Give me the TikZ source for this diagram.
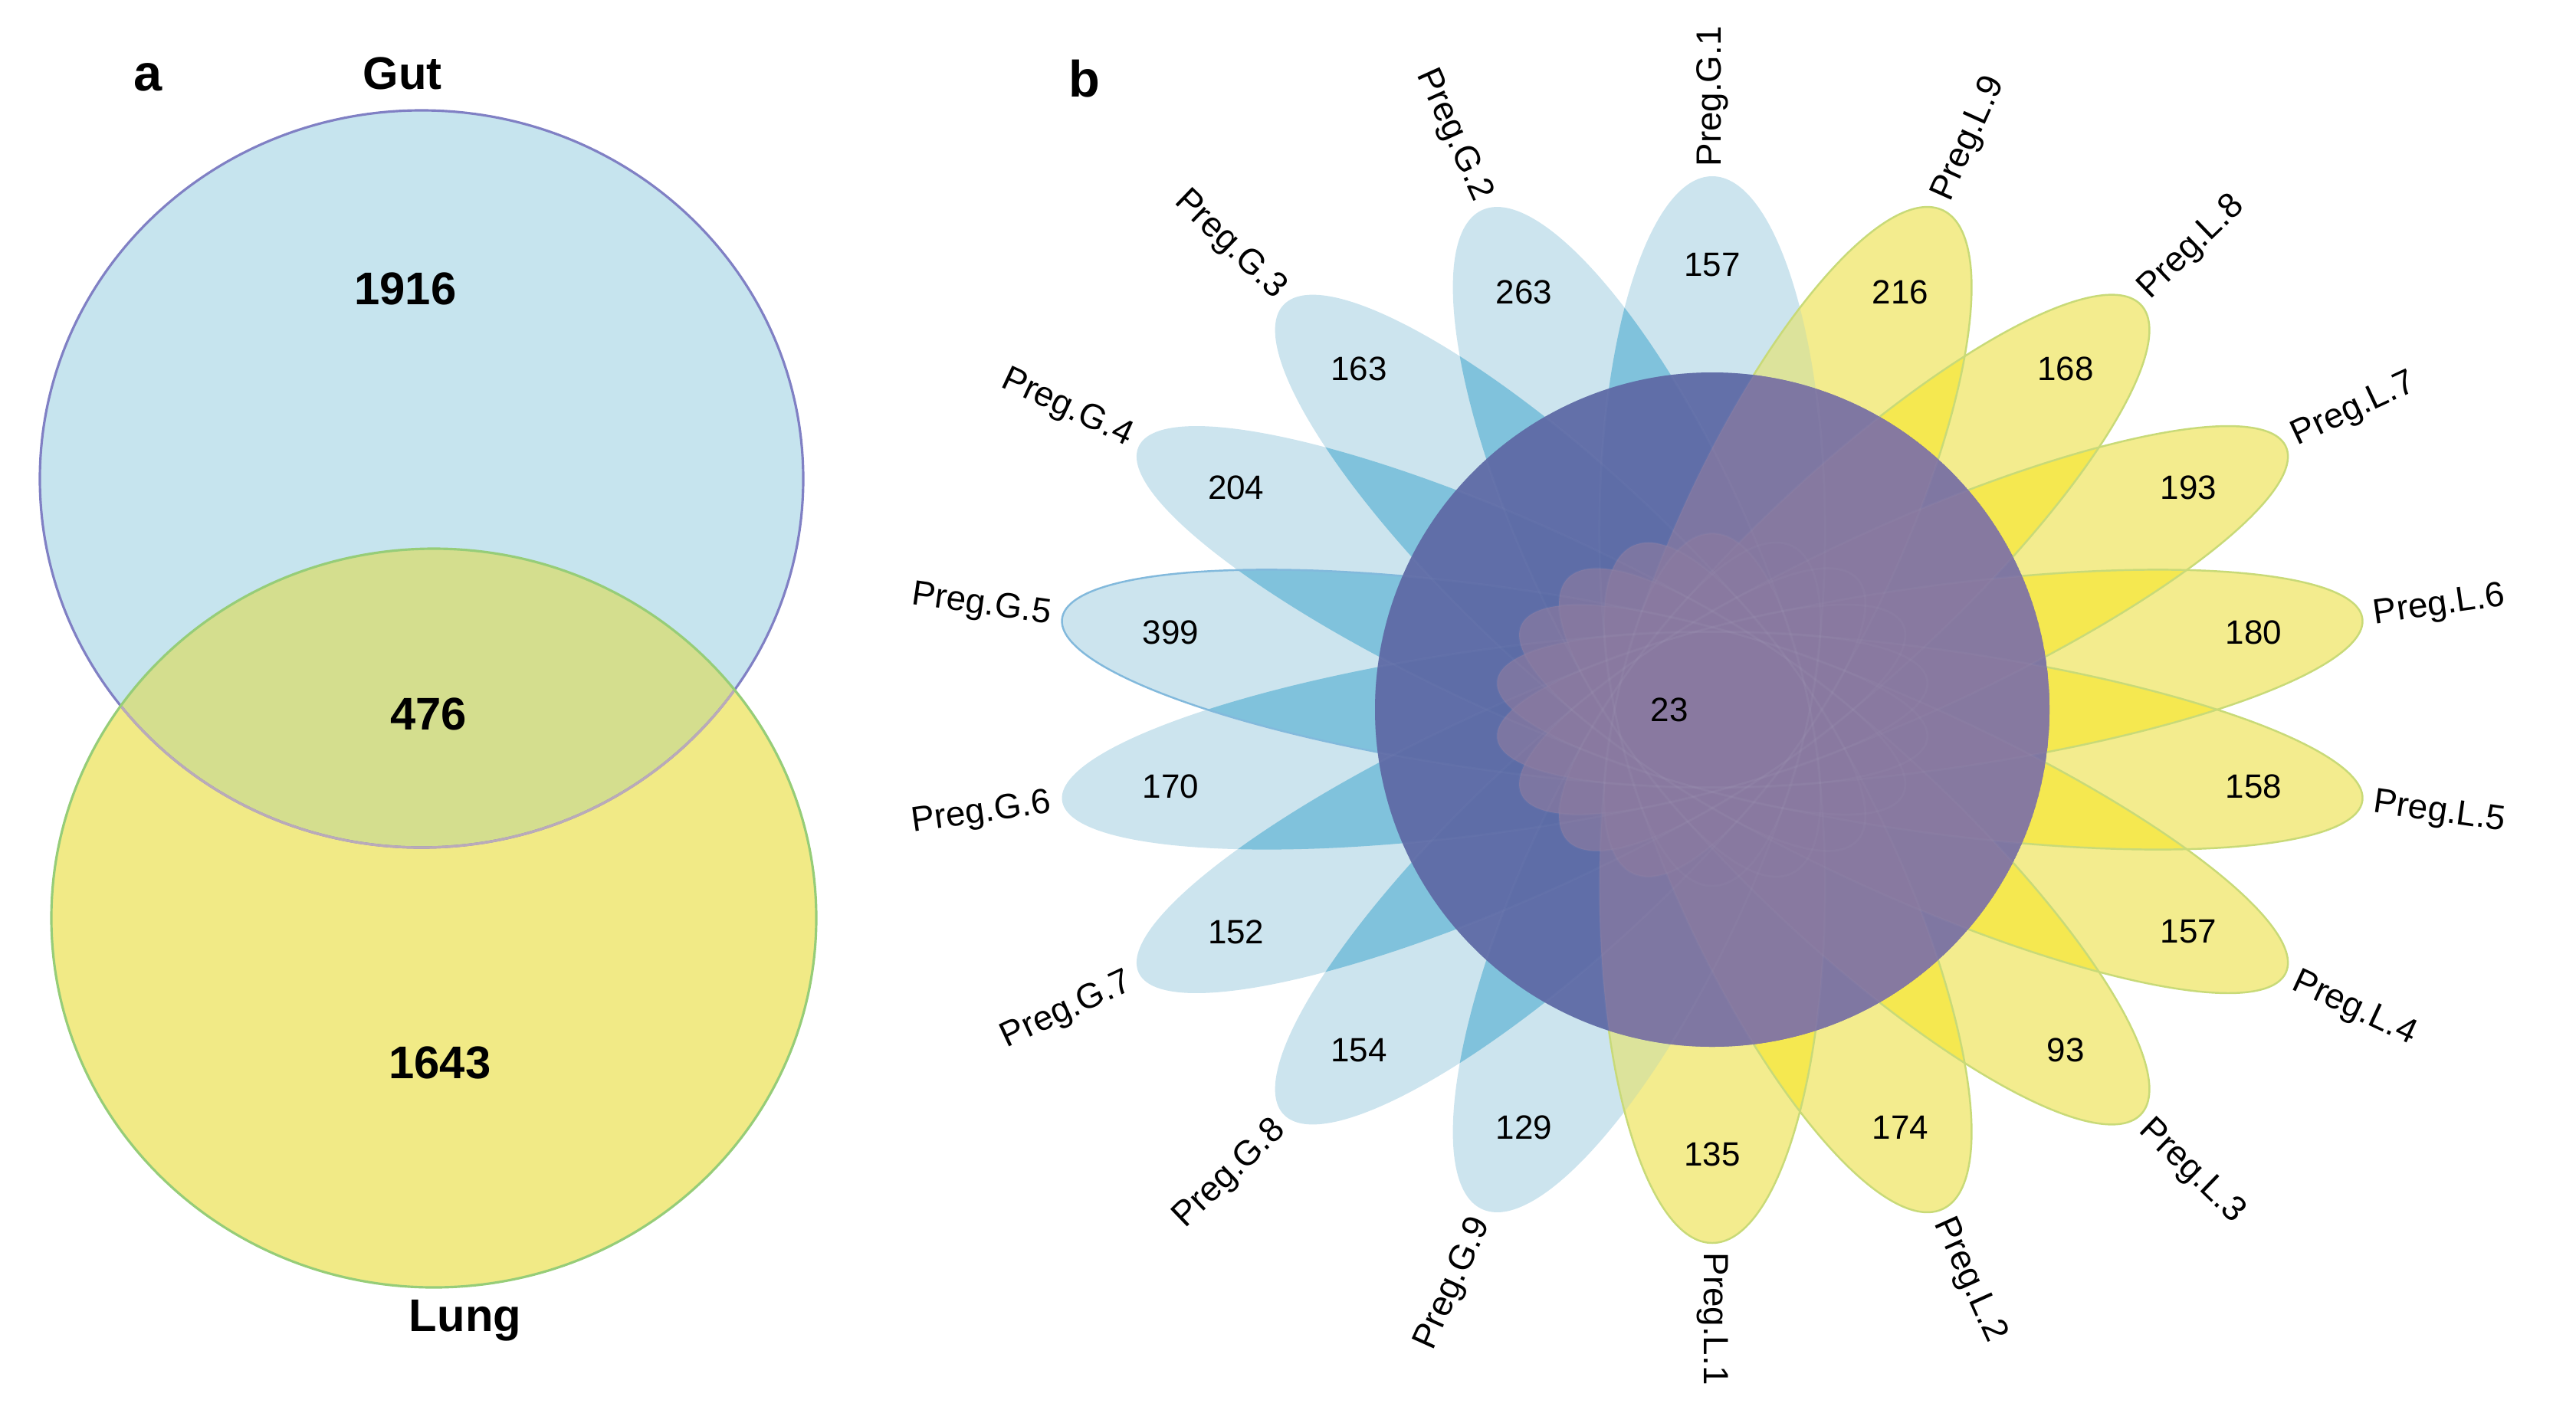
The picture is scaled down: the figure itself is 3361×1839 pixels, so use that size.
\documentclass[tikz,border=0pt]{standalone}
\usepackage{fontspec}
\setmainfont{Liberation Sans}
\usetikzlibrary{positioning}

\definecolor{gutfill}{RGB}{198,228,238}
\definecolor{gutline}{RGB}{128,128,196}
\definecolor{gutlinein}{RGB}{186,170,186}
\definecolor{lungfill}{RGB}{241,234,134}
\definecolor{lungline}{RGB}{150,205,120}
\definecolor{bothfill}{RGB}{212,222,142}
\definecolor{gutpetal}{RGB}{204,228,238}
\definecolor{gutdouble}{RGB}{128,194,220}
\definecolor{gutedge}{RGB}{130,185,220}
\definecolor{lungpetal}{RGB}{243,236,142}
\definecolor{lungdouble}{RGB}{245,232,80}
\definecolor{lungedge}{RGB}{200,218,120}
\definecolor{mixdouble}{RGB}{220,227,155}
\definecolor{corebase}{RGB}{102,114,170}
\definecolor{coregut}{RGB}{88,106,166}
\definecolor{corelung}{RGB}{138,122,160}

\begin{document}
\begin{tikzpicture}[x=0.01cm, y=0.01cm,
  panel/.style={font=\fontsize{19}{19}\selectfont\bfseries, inner sep=0pt},
  venn num/.style={font=\fontsize{17}{17}\selectfont\bfseries, inner sep=0pt},
  petal num/.style={font=\fontsize{12.5}{12.5}\selectfont, inner sep=0pt},
  petal lbl/.style={font=\fontsize{13}{13}\selectfont, inner sep=0pt}]
\useasboundingbox (0,0) rectangle (3361,-1839);

% a: two sets
\fill[gutfill] (550,-625) ellipse [x radius=498, y radius=481];
\fill[lungfill] (566,-1198) ellipse [x radius=499, y radius=482];
\begin{scope}
  \clip (550,-625) ellipse [x radius=498, y radius=481];
  \fill[bothfill] (566,-1198) ellipse [x radius=499, y radius=482];
\end{scope}
\draw[gutline, line width=0.9pt] (550,-625) ellipse [x radius=498, y radius=481];
\begin{scope}
  \clip (566,-1198) ellipse [x radius=499, y radius=482];
  \draw[gutlinein, line width=0.9pt] (550,-625) ellipse [x radius=498, y radius=481];
\end{scope}
\draw[lungline, line width=0.9pt] (566,-1198) ellipse [x radius=499, y radius=482];

\node[panel] (lbla) at (193,-101) {a};
\node[venn num] (gut) at (525,-96) {Gut};
\node[venn num] (n1916) at (529,-377) {1916};
\node[venn num] (n476) at (559,-932) {476};
\node[venn num] (n1643) at (574,-1387) {1643};
\node[venn num] (lung) at (607,-1723) {Lung};

% b: flower
\node[panel] (lblb) at (1415,-103) {b};
\begin{scope}[shift={(2234,-926)}, xscale=1.237]
  \foreach \t in {90,110,...,250}
    \fill[gutpetal, rotate=\t] (233,0) ellipse [x radius=463, y radius=119];
  \foreach \t in {270,290,...,430}
    \fill[lungpetal, rotate=\t] (233,0) ellipse [x radius=463, y radius=119];
  \foreach \a in {90,110,...,230} {
    \begin{scope}
      \clip[rotate=\a] (233,0) ellipse [x radius=463, y radius=119];
      \fill[gutdouble, rotate=\a+20] (233,0) ellipse [x radius=463, y radius=119];
    \end{scope}
  }
  \foreach \a in {270,290,...,410} {
    \begin{scope}
      \clip[rotate=\a] (233,0) ellipse [x radius=463, y radius=119];
      \fill[lungdouble, rotate=\a+20] (233,0) ellipse [x radius=463, y radius=119];
    \end{scope}
  }
  \foreach \a in {250,430} {
    \begin{scope}
      \clip[rotate=\a] (233,0) ellipse [x radius=463, y radius=119];
      \fill[mixdouble, rotate=\a+20] (233,0) ellipse [x radius=463, y radius=119];
    \end{scope}
  }
  \foreach \t in {270,290,...,430}
    \draw[lungedge, line width=0.7pt, rotate=\t] (233,0) ellipse [x radius=463, y radius=119];
  \draw[gutedge, line width=0.7pt, rotate=170] (233,0) ellipse [x radius=463, y radius=119];
\end{scope}

\begin{scope}
  \clip (2234,-926) circle [radius=440];
  \fill[corebase] (2234,-926) circle [radius=440];
  \begin{scope}[shift={(2234,-926)}, xscale=1.237]
    \foreach \t in {90,110,...,250}
      \fill[coregut, fill opacity=0.2, rotate=\t] (233,0) ellipse [x radius=463, y radius=119];
    \foreach \t in {270,290,...,430}
      \fill[corelung, fill opacity=0.7, rotate=\t] (233,0) ellipse [x radius=463, y radius=119];
    \foreach \t in {90,110,...,430}
      \draw[white, opacity=0.025, line width=0.8pt, rotate=\t] (233,0) ellipse [x radius=463, y radius=119];
  \end{scope}
\end{scope}
\node[petal num] (core) at (2178,-926) {23};

\begin{scope}[shift={(2234,-926)}, xscale=1.237]
  \foreach \k/\n in {1/157,2/263,3/163,4/204,5/399,6/170,7/152,8/154,9/129}
    \node[petal num] (g\k) at ({70+20*\k}:580) {\n};
  \foreach \k/\n in {1/135,2/174,3/93,4/157,5/158,6/180,7/193,8/168,9/216}
    \node[petal num] (l\k) at ({250+20*\k}:580) {\n};
  \node[petal lbl, anchor=west, rotate=90] (pg1) at (90:708) {Preg.G.1};
  \foreach \k in {2,...,9} {
    \pgfmathsetmacro\t{70+20*\k}
    \pgfmathsetmacro\r{atan2(sin(\t),1.237*cos(\t))-180}
    \node[petal lbl, anchor=east, rotate=\r] (pg\k) at (\t:708) {Preg.G.\k};
  }
  \foreach \k in {1,...,9} {
    \pgfmathsetmacro\t{250+20*\k}
    \pgfmathsetmacro\r{atan2(sin(\t),1.237*cos(\t))}
    \node[petal lbl, anchor=west, rotate=\r] (pl\k) at (\t:708) {Preg.L.\k};
  }
\end{scope}
\end{tikzpicture}
\end{document}
